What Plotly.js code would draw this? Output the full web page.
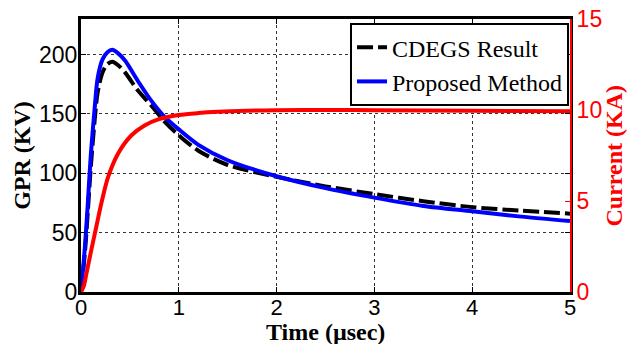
<!DOCTYPE html>
<html>
<head>
<meta charset="utf-8">
<script src="https://cdn.plot.ly/plotly-3.0.1.min.js"></script>
<style>html,body{margin:0;padding:0;background:#fff;}#chart{width:628px;height:344px;}</style>
</head>
<body>
<div id="chart"></div>
<script>
// Time (µsec) samples
const tProposed = [0, 0.04, 0.07, 0.1, 0.14, 0.17, 0.22, 0.27, 0.32, 0.38, 0.45, 0.58, 0.72, 0.85, 1.0, 1.2, 1.5, 2.0, 2.5, 3.0, 3.5, 4.0, 4.5, 5.0];
const gprProposed = [0, 38, 75, 115, 155, 180, 196, 202, 204, 201, 195, 178, 161, 148, 137, 124, 111, 97.5, 87.5, 79.5, 72.5, 68, 63.5, 59.8];

const tCdegs = [0, 0.04, 0.07, 0.1, 0.14, 0.17, 0.22, 0.27, 0.32, 0.38, 0.45, 0.58, 0.72, 0.85, 1.0, 1.2, 1.5, 2.0, 2.5, 3.0, 3.5, 4.0, 4.5, 5.0];
const gprCdegs = [0, 33, 68, 105, 145, 168, 185, 192, 194, 191, 185, 170, 157, 144, 132, 119, 107, 97, 89, 82.5, 76.5, 71.5, 68.5, 66];

const tCurrent = [0, 0.03, 0.055, 0.105, 0.157, 0.207, 0.276, 0.378, 0.514, 0.65, 0.79, 1.0, 1.2, 1.4, 1.7, 2.0, 2.5, 3.0, 4.0, 5.0];
const current = [0, 0.35, 1.0, 2.3, 3.6, 4.85, 6.3, 7.6, 8.6, 9.15, 9.48, 9.72, 9.83, 9.9, 9.96, 9.99, 10.0, 9.99, 9.96, 9.93];

const xTicks = [0, 1, 2, 3, 4, 5];
const yTicks = [0, 50, 100, 150, 200];
const y2Ticks = [0, 5, 10, 15];

const xTitle = 'Time (µsec)';
const yTitle = 'GPR (KV)';
const y2Title = 'Current (KA)';

const traces = [
  {x: tCdegs, y: gprCdegs, name: 'CDEGS Result', mode: 'lines',
   line: {color: '#000000', width: 4, dash: '16px,5px', shape: 'spline', smoothing: 0.8}},
  {x: tProposed, y: gprProposed, name: 'Proposed Method', mode: 'lines',
   line: {color: '#0000ff', width: 4, shape: 'spline', smoothing: 0.8}},
  {x: tCurrent, y: current, name: 'Current', mode: 'lines', yaxis: 'y2', showlegend: false,
   line: {color: '#ff0000', width: 4, shape: 'spline', smoothing: 0.8}}
];

const serif = 'Liberation Serif, Times New Roman, serif';
const sans = 'Liberation Sans, Arial, sans-serif';
const titleFont = {family: serif, size: 24, color: '#000', weight: 'bold'};

const layout = {
  width: 628, height: 344,
  margin: {l: 81, r: 58, t: 19, b: 52},
  paper_bgcolor: '#fff', plot_bgcolor: '#fff',
  showlegend: true,
  legend: {x: 0.998, xanchor: 'right', y: 0.985, yanchor: 'top',
    bgcolor: '#fff', bordercolor: '#000', borderwidth: 2,
    font: {family: serif, size: 24, color: '#000'},
    itemwidth: 30, tracegroupgap: 0},
  xaxis: {range: [0, 5], tickvals: xTicks, ticktext: xTicks.map(String),
    showline: true, linecolor: '#000', linewidth: 3, mirror: 'ticks',
    ticks: 'inside', ticklen: 5, tickcolor: '#000', tickwidth: 1,
    ticklabelstandoff: -6,
    showgrid: true, gridcolor: '#333', griddash: 'dot', gridwidth: 1,
    zeroline: false, tickfont: {family: sans, size: 22, color: '#000'}},
  yaxis: {range: [0, 230], tickvals: yTicks, ticktext: yTicks.map(String),
    showline: true, linecolor: '#000', linewidth: 3, mirror: 'ticks',
    ticks: 'inside', ticklen: 5, tickcolor: '#000', tickwidth: 1,
    ticklabelstandoff: -4,
    showgrid: true, gridcolor: '#333', griddash: 'dot', gridwidth: 1,
    zeroline: false, tickfont: {family: sans, size: 23, color: '#000'},
    title: {text: yTitle, font: titleFont, standoff: 2}},
  yaxis2: {range: [0, 15], tickvals: y2Ticks, ticktext: y2Ticks.map(String),
    overlaying: 'y', side: 'right',
    showline: true, linecolor: '#ff0000', linewidth: 2,
    ticks: 'inside', ticklen: 5, tickcolor: '#ff0000',
    showgrid: false, zeroline: false,
    tickfont: {family: sans, size: 23, color: '#ff0000'}},
  annotations: [
    {text: xTitle, xref: 'paper', yref: 'paper', x: 0.5, y: -0.198,
     xanchor: 'center', yanchor: 'bottom', showarrow: false, borderpad: 0,
     font: titleFont},
    {text: y2Title, xref: 'paper', yref: 'paper', x: 1.088, y: 0.5,
     xanchor: 'center', yanchor: 'middle', textangle: -90, showarrow: false, borderpad: 0,
     font: {family: serif, size: 24, color: '#ff0000', weight: 'bold'}}
  ]
};

Plotly.newPlot('chart', traces, layout, {displayModeBar: false, staticPlot: true});
</script>
</body>
</html>
